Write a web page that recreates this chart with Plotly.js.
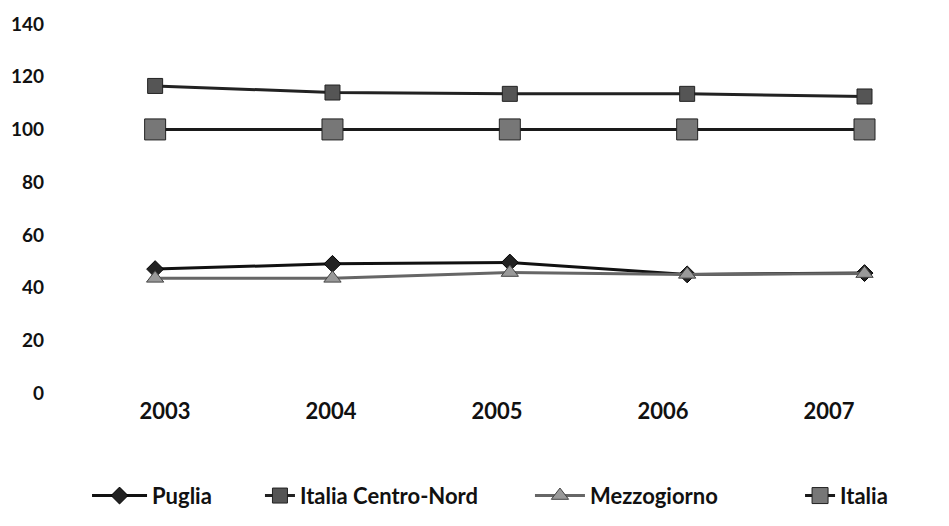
<!DOCTYPE html>
<html>
<head>
<meta charset="utf-8">
<script src="https://cdn.plot.ly/plotly-3.0.1.min.js"></script>
<style>html,body{margin:0;padding:0;background:#fff;}#chart{width:949px;height:526px;}</style>
</head>
<body>
<div id="chart"></div>
<script>
const years = ['2003', '2004', '2005', '2006', '2007'];
const puglia = [47, 49, 49.5, 45, 45.5];
const centroNord = [116.5, 114, 113.5, 113.5, 112.5];
const mezzogiorno = [43.5, 43.5, 45.7, 45, 45.3];
const italia = [100, 100, 100, 100, 100];
const yTicks = [0, 20, 40, 60, 80, 100, 120, 140];

const FONT = 'Lato, DejaVu Sans Condensed, sans-serif';
const LFONT = 'Lato, DejaVu Sans Condensed, sans-serif';
const xIdx = years.map((_, i) => i);

const traces = [
  {name: 'Puglia', y: puglia, legend: 'legend',
   line: {color: '#111', width: 3}, marker: {symbol: 'diamond', size: 13, color: '#222', line: {color: '#000', width: 1}}},
  {name: 'Italia Centro-Nord', y: centroNord, legend: 'legend2',
   line: {color: '#222', width: 3}, marker: {symbol: 'square', size: 15, color: '#555', line: {color: '#222', width: 1}}},
  {name: 'Mezzogiorno', y: mezzogiorno, legend: 'legend3',
   line: {color: '#666', width: 3}, marker: {symbol: 'triangle-up', size: 15, color: '#999', line: {color: '#444', width: 1}}},
  {name: 'Italia', y: italia, legend: 'legend4',
   line: {color: '#1a1a1a', width: 3}, marker: {symbol: 'square', size: 21, color: '#777', line: {color: '#222', width: 1}}}
].map(t => Object.assign({type: 'scatter', mode: 'lines+markers', x: xIdx}, t));

// invisible carrier trace for the category label axis
traces.push({type: 'scatter', mode: 'markers', x: xIdx, y: italia, xaxis: 'x2',
  marker: {opacity: 0}, showlegend: false, hoverinfo: 'skip'});

const legendBase = {orientation: 'h', yanchor: 'middle', y: -0.275, xanchor: 'left',
  font: {family: LFONT, size: 22, color: '#111', weight: 'bold'}, bgcolor: 'rgba(0,0,0,0)'};

const layout = {
  width: 949, height: 526,
  margin: {l: 70, r: 10, t: 24, b: 132},
  paper_bgcolor: '#fff', plot_bgcolor: '#fff',
  showlegend: true,
  xaxis: {range: [-0.48, 4.42], showticklabels: false,
    showgrid: false, zeroline: false, showline: false, ticks: ''},
  xaxis2: {overlaying: 'x', side: 'bottom', tickmode: 'array', tickvals: xIdx, ticktext: years,
    range: [-0.572, 4.663], showgrid: false, zeroline: false, showline: false, ticks: '',
    tickfont: {family: FONT, size: 22, color: '#111', weight: 'bold'}, ticklabelstandoff: 3},
  yaxis: {range: [0, 140], tickmode: 'array', tickvals: yTicks, showgrid: false, zeroline: false,
    showline: false, ticks: '', tickfont: {family: FONT, size: 19, color: '#111', weight: 'bold'},
    ticklabelstandoff: 25},
  legend: Object.assign({}, legendBase, {x: 0.0196, itemwidth: 55}),
  legend2: Object.assign({}, legendBase, {x: 0.2186, itemwidth: 30}),
  legend3: Object.assign({}, legendBase, {x: 0.5293, itemwidth: 50}),
  legend4: Object.assign({}, legendBase, {x: 0.8401, itemwidth: 30})
};

Plotly.newPlot('chart', traces, layout, {displayModeBar: false, staticPlot: true});
</script>
</body>
</html>
